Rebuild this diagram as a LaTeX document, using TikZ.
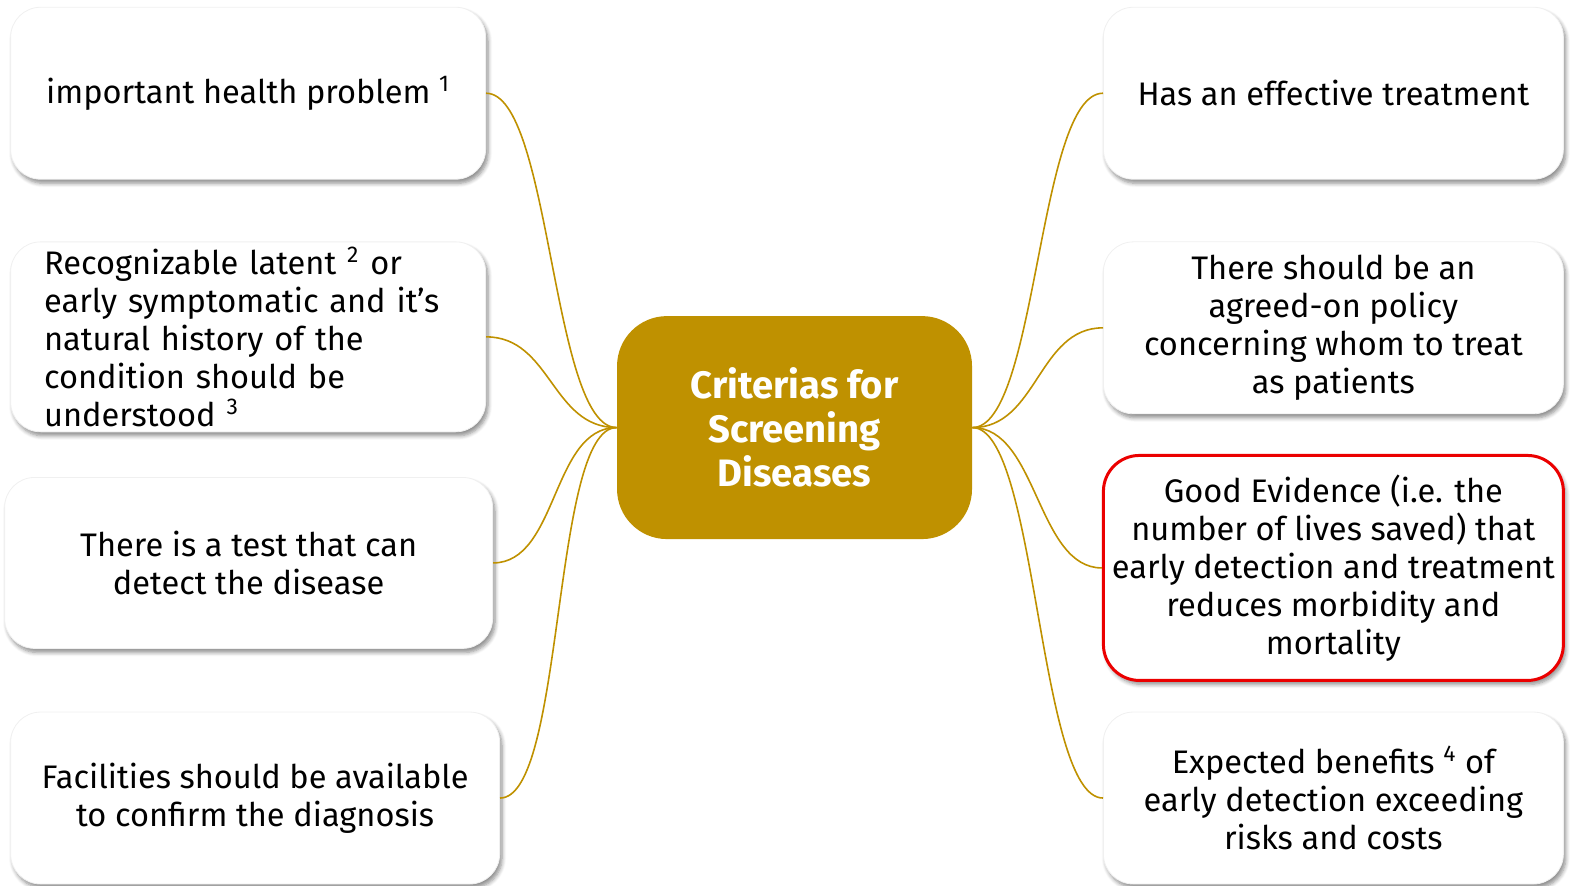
\documentclass[tikz,border=0pt]{standalone}
\usepackage{fontspec}
\setmainfont{Fira Sans}
\usepackage{tikz}
\usetikzlibrary{positioning, shadows, shadows.blur}

\definecolor{rootGold}{RGB}{191,145,0}
\definecolor{alertRed}{RGB}{235,0,0}

\begin{document}
\begin{tikzpicture}[x=0.5013pt, y=-0.5013pt,
    leafBox/.style={draw=gray!12, fill=white, rounded corners=15pt, line width=0.4pt,
      align=center, inner sep=0pt, font=\fontsize{16.3}{19}\selectfont,
      blur shadow={shadow xshift=1.2pt, shadow yshift=-2pt, shadow blur steps=6,
        shadow blur radius=2pt, shadow opacity=45}},
    redBox/.style={leafBox, draw=alertRed, line width=1.5pt, rounded corners=18pt},
    rootBox/.style={fill=rootGold, rounded corners=25pt, text=white, align=center,
      inner sep=0pt, font=\fontsize{19.1}{22}\selectfont\bfseries},
    branchLine/.style={draw=rootGold, line width=0.8pt},
  ]
  \useasboundingbox (0,0) rectangle (1568,883);

  % central topic
  \node[rootBox, minimum width=177.5pt, minimum height=111.5pt] (root) at (792.5,426.5)
    {Criterias for\\Screening\\Diseases};

  % left branches
  \node[leafBox, minimum width=237.5pt, minimum height=86pt] (imp) at (247.5,93)
    {important health problem \textsuperscript{1}};
  \node[leafBox, align=left, text width=204pt, minimum width=237.5pt, minimum height=95pt] (latent) at (247.5,336)
    {Recognizable latent \textsuperscript{2} or\\early symptomatic and it's\\natural history of the\\condition should be\\understood \textsuperscript{3}};
  \node[leafBox, minimum width=244pt, minimum height=85.5pt] (test) at (248,561.5)
    {There is a test that can\\detect the disease};
  \node[leafBox, minimum width=244.5pt, minimum height=86pt] (facil) at (254.5,796)
    {Facilities should be available\\to confirm the diagnosis};

  % right branches
  \node[leafBox, minimum width=230pt, minimum height=86pt] (treat) at (1330,93)
    {Has an effective treatment};
  \node[leafBox, minimum width=230pt, minimum height=86pt] (policy) at (1330,327)
    {There should be an\\agreed-on policy\\concerning whom to treat\\as patients};
  \node[redBox, minimum width=230pt, minimum height=112.5pt] (evid) at (1330,566.5)
    {Good Evidence (i.e. the\\number of lives saved) that\\early detection and treatment\\reduces morbidity and\\mortality};
  \node[leafBox, minimum width=230pt, minimum height=86pt] (benef) at (1330,796)
    {Expected benefits \textsuperscript{4} of\\early detection exceeding\\risks and costs};

  % connectors
  \foreach \leaf in {imp, latent, test, facil}
    \draw[branchLine] (root.west) .. controls +(-65,0) and +(65,0) .. (\leaf.east);
  \foreach \leaf in {treat, policy, evid, benef}
    \draw[branchLine] (root.east) .. controls +(65,0) and +(-65,0) .. (\leaf.west);
\end{tikzpicture}
\end{document}
